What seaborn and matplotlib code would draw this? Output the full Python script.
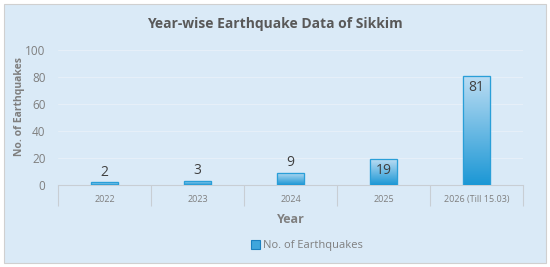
import numpy as np
import pandas as pd
import matplotlib
matplotlib.use("Agg")
import matplotlib.pyplot as plt
import seaborn as sns
from matplotlib.colors import LinearSegmentedColormap
from matplotlib.patches import Rectangle, Patch

years = ["2022", "2023", "2024", "2025", "2026 (Till 15.03)"]
quakes = [2, 3, 9, 19, 81]
df = pd.DataFrame({"Year": years, "No. of Earthquakes": quakes})

bg = "#DAEAF7"
sns.set_style("white")
plt.rcParams["font.family"] = ["Open Sans", "DejaVu Sans"]

fig = plt.figure(figsize=(5.5, 2.67), dpi=100)
fig.patch.set_facecolor("white")
frame = Rectangle((4 / 550, 4 / 267), 542 / 550, 259 / 267, transform=fig.transFigure,
                  facecolor=bg, edgecolor="#D0D0D0", lw=0.8, zorder=-10)
fig.patches.append(frame)

ax = fig.add_axes([58 / 550, 82 / 267, 465 / 550, 135 / 267])
ax.set_zorder(5)
ax.set_facecolor("none")
sns.barplot(data=df, x="Year", y="No. of Earthquakes", ax=ax, width=0.3,
            color="#2A9FD8", edgecolor="#2A9FD8", linewidth=0.8, zorder=3)

# gradient fill inside bars
cmap = LinearSegmentedColormap.from_list("g", ["#1B97D5", "#BCDDF3"])
grad = np.linspace(0, 1, 256).reshape(-1, 1)
for p in list(ax.patches):
    x0, y0 = p.get_x(), p.get_y()
    w, h = p.get_width(), p.get_height()
    im = ax.imshow(grad, cmap=cmap, aspect="auto", origin="lower",
                   extent=(x0, x0 + w, y0, y0 + h), zorder=3.5)
    im.set_clip_path(p)
    ax.add_patch(Rectangle((x0, y0), w, h, fill=False, edgecolor="#2A9FD8", lw=0.9, zorder=4))

ax.set_xlim(-0.5, 4.5)
ax.set_ylim(0, 100)
ax.set_yticks(range(0, 101, 20))
ax.yaxis.grid(True, color="#E6EFF8", lw=0.8, zorder=0)
for s in ["top", "right", "left"]:
    ax.spines[s].set_visible(False)
ax.spines["bottom"].set_color("#C8CED4")
ax.spines["bottom"].set_linewidth(0.8)

ax.tick_params(axis="y", length=0, labelsize=8.5, labelcolor="#7F7F7F", pad=9)
ax.tick_params(axis="x", which="major", length=0, labelsize=6.5, labelcolor="#7F7F7F", pad=7)
ax.set_xticks(np.arange(-0.5, 5, 1), minor=True)
ax.tick_params(axis="x", which="minor", bottom=True, length=15, color="#C8CED4",
               width=0.8, direction="out")

for i, v in enumerate(quakes):
    if v < 10:
        ax.text(i, v + 2, str(v), ha="center", va="bottom", fontsize=10, color="#404040", zorder=5)
    else:
        ax.text(i, v - 3, str(v), ha="center", va="top", fontsize=10, color="#404040", zorder=5)

ax.set_xlabel("Year", fontsize=9, fontweight="bold", color="#7F7F7F", labelpad=2)
ax.set_ylabel("No. of Earthquakes", fontsize=7.5, fontweight="bold", color="#7F7F7F")
ax.yaxis.set_label_coords(-0.072, 0.58)
fig.text(0.5, 0.91, "Year-wise Earthquake Data of Sikkim", ha="center", va="center",
         fontsize=10, fontweight="bold", color="#595959")

leg = fig.legend(handles=[Patch(facecolor="#3FA6DC", edgecolor="#1B80C0", lw=0.8)],
                 labels=["No. of Earthquakes"], loc="center", bbox_to_anchor=(0.558, 0.08),
                 frameon=False, fontsize=8, handlelength=0.8, handleheight=0.8, handletextpad=0.3)
for t in leg.get_texts():
    t.set_color("#7F7F7F")

fig.savefig("out.png", dpi=100)
